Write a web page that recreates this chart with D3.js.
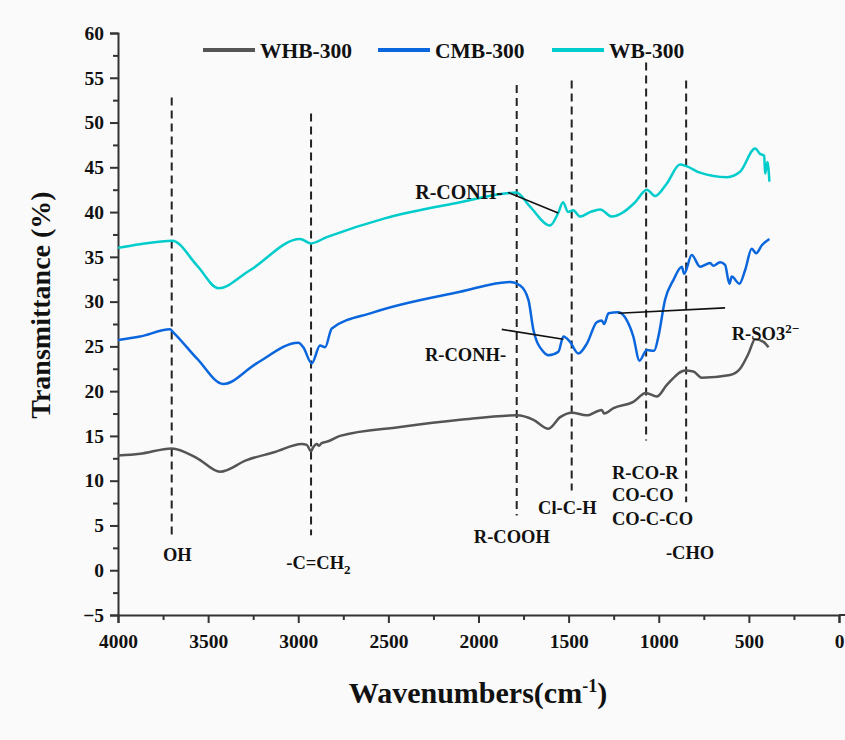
<!DOCTYPE html>
<html>
<head>
<meta charset="utf-8">
<script src="https://cdn.jsdelivr.net/npm/d3@7"></script>
<style>
  body { margin: 0; background: #fafafa; }
  svg { display: block; background: #fafafa; }
  text { font-family: "Liberation Serif", "Times New Roman", serif; font-weight: bold; fill: #111; }
</style>
</head>
<body>
<svg width="845" height="740"></svg>
<script>
// series names + colours
const seriesNames = ["WHB-300", "CMB-300", "WB-300"];
const seriesColors = ["#555555", "#0a66dc", "#00cccc"];

// WHB-300
const whbWave = [4000, 3878, 3702, 3560, 3434, 3286, 3129, 2981, 2953, 2929, 2918, 2897, 2885, 2870, 2833, 2768, 2435, 2102, 1788, 1695, 1612, 1547, 1482, 1399, 1316, 1303, 1251, 1141, 1072, 1011, 955, 854, 808, 761, 604, 549, 502, 465, 419, 391];
const whbT =    [12.8, 13.0, 13.6, 12.5, 11.0, 12.3, 13.2, 14.1, 14.0, 13.3, 13.7, 14.1, 13.9, 14.2, 14.4, 15.0, 16.0, 16.8, 17.3, 16.8, 15.8, 17.1, 17.6, 17.3, 17.9, 17.5, 18.1, 18.8, 19.8, 19.4, 20.7, 22.3, 22.2, 21.5, 21.8, 22.5, 24.2, 25.8, 25.5, 24.9];

// CMB-300
const cmbWave = [4000, 3878, 3711, 3695, 3560, 3416, 3231, 3000, 2972, 2925, 2879, 2851, 2814, 2583, 2102, 1825, 1769, 1723, 1695, 1640, 1612, 1557, 1529, 1492, 1446, 1399, 1344, 1316, 1303, 1279, 1224, 1177, 1141, 1107, 1066, 1026, 1002, 965, 919, 872, 859, 817, 771, 715, 697, 660, 632, 608, 595, 553, 521, 484, 460, 428, 386];
const cmbT =    [25.7, 26.1, 26.9, 26.6, 23.6, 20.8, 23.1, 25.4, 24.9, 23.1, 25.1, 24.9, 27.0, 28.8, 31.1, 32.2, 31.8, 30.2, 26.8, 24.4, 24.0, 24.4, 26.1, 25.5, 24.2, 25.3, 27.7, 27.9, 27.5, 28.7, 28.8, 27.9, 26.1, 23.4, 24.6, 24.5, 26.1, 30.2, 32.4, 33.9, 33.1, 35.2, 33.9, 34.3, 34.0, 34.4, 34.1, 32.0, 32.8, 32.0, 33.5, 35.9, 35.4, 36.3, 37.0];

// WB-300
const wbWave = [4000, 3878, 3700, 3560, 3443, 3268, 2990, 2931, 2842, 2520, 2102, 1843, 1790, 1714, 1603, 1558, 1531, 1503, 1475, 1436, 1381, 1325, 1260, 1196, 1131, 1066, 1020, 955, 882, 844, 771, 622, 549, 465, 438, 415, 410, 397, 386];
const wbT =    [36.0, 36.4, 36.8, 34.0, 31.5, 33.5, 37.0, 36.5, 37.2, 39.3, 41.1, 42.1, 42.2, 40.6, 38.5, 39.9, 41.1, 40.0, 40.2, 39.5, 40.0, 40.3, 39.5, 40.0, 41.1, 42.5, 41.8, 43.2, 45.3, 45.1, 44.4, 43.9, 44.5, 47.1, 46.5, 46.3, 44.3, 45.6, 43.4];

// axis ticks
const xTicks = [4000, 3500, 3000, 2500, 2000, 1500, 1000, 500, 0];
const yTicks = [-5, 0, 5, 10, 15, 20, 25, 30, 35, 40, 45, 50, 55, 60];

// dashed marker lines: wavenumber, top, bottom (in % units)
const markWave = [3702, 2929, 1788, 1483, 1070, 848];
const markTop = [52.8, 51.0, 54.2, 54.7, 56.7, 54.7];
const markBottom = [3.7, 3.9, 6.1, 8.9, 14.5, 7.6];

// labels: text, wavenumber, value, anchor
const labelText = ["OH", "-C=CH|2", "R-COOH", "Cl-C-H", "R-CO-R", "CO-CO", "CO-C-CO", "-CHO", "R-CONH-", "R-CONH-", "R-SO3^2\u2212"];
const labelWave = [3671, 2888, 1815, 1507, 1260, 1260, 1260, 826, 1864, 2072, 595];
const labelVal = [1.8, 0.9, 3.8, 7.0, 10.9, 8.4, 5.8, 2.0, 42.2, 24.1, 26.4];
const labelAnchor = ["middle", "middle", "middle", "middle", "start", "start", "start", "middle", "end", "middle", "start"];

// leader lines: [w1, v1, w2, v2]
const leaders = [
  [1836, 42.2, 1558, 39.9],
  [1871, 26.9, 1529, 25.8],
  [1224, 28.7, 632, 29.3]
];

const serif = "'Liberation Serif', 'Times New Roman', serif";
const svg = d3.select("svg");

const x = d3.scaleLinear().domain([4000, 0]).range([118, 839]);
const y = d3.scaleLinear().domain([-5, 60]).range([615, 33]);

// axes
svg.append("g").attr("transform", "translate(0,615)")
  .call(d3.axisBottom(x).tickValues(xTicks).tickSize(8).tickPadding(11).tickFormat(d3.format("d")));
svg.append("g").attr("transform", "translate(0,615)")
  .call(d3.axisBottom(x).tickValues(xTicks.slice(1).map(d => d + 250)).tickSize(5).tickFormat(""))
  .select(".domain").remove();

svg.append("g").attr("transform", "translate(118,0)")
  .call(d3.axisLeft(y).tickValues(yTicks).tickSize(8).tickPadding(6));
svg.append("g").attr("transform", "translate(118,0)")
  .call(d3.axisLeft(y).tickValues(yTicks.slice(1).map(d => d - 2.5)).tickSize(5).tickFormat(""))
  .select(".domain").remove();

svg.selectAll("g").attr("font-family", serif).attr("font-weight", "bold");
svg.selectAll(".domain").attr("stroke", "#333").attr("stroke-width", 2);
svg.selectAll(".tick line").attr("stroke", "#333").attr("stroke-width", 2);
svg.selectAll(".tick text")
  .style("font-family", serif)
  .style("font-weight", "bold").style("font-size", "19.5px").attr("fill", "#111");

// x axis runs on to the edge
svg.append("line")
  .attr("x1", x(0)).attr("x2", 845).attr("y1", 615).attr("y2", 615)
  .attr("stroke", "#333").attr("stroke-width", 2);

// axis titles
svg.append("text")
  .attr("transform", "translate(40,305) rotate(-90)")
  .attr("text-anchor", "middle").attr("dy", "0.35em")
  .style("font-size", "28px")
  .text("Transmittance (%)");

const xt = svg.append("text")
  .attr("x", 478).attr("y", 703)
  .attr("text-anchor", "middle")
  .style("font-size", "30px");
xt.append("tspan").text("Wavenumbers(cm");
xt.append("tspan").attr("dy", -11).style("font-size", "18px").text("-1");
xt.append("tspan").attr("dy", 11).text(")");

// dashed markers
svg.append("g").selectAll("line")
  .data(markWave)
  .join("line")
  .attr("x1", d => x(d)).attr("x2", d => x(d))
  .attr("y1", (d, i) => y(markTop[i]))
  .attr("y2", (d, i) => y(markBottom[i]))
  .attr("stroke", "#222").attr("stroke-width", 2)
  .attr("stroke-dasharray", "8,5");

// spectra
const line = d3.line().x(d => x(d[0])).y(d => y(d[1])).curve(d3.curveMonotoneX);
const series = [
  d3.zip(whbWave, whbT),
  d3.zip(cmbWave, cmbT),
  d3.zip(wbWave, wbT)
];
svg.append("g").selectAll("path")
  .data(series)
  .join("path")
  .attr("d", line)
  .attr("fill", "none")
  .attr("stroke", (d, i) => seriesColors[i])
  .attr("stroke-width", 2.5)
  .attr("stroke-linejoin", "round");

// leader lines
svg.append("g").selectAll("line")
  .data(leaders)
  .join("line")
  .attr("x1", d => x(d[0])).attr("y1", d => y(d[1]))
  .attr("x2", d => x(d[2])).attr("y2", d => y(d[3]))
  .attr("stroke", "#111").attr("stroke-width", 1.6);

// labels
const lab = svg.append("g").selectAll("text")
  .data(labelText)
  .join("text")
  .attr("x", (d, i) => x(labelWave[i]))
  .attr("y", (d, i) => y(labelVal[i]))
  .attr("dy", "0.35em")
  .attr("text-anchor", (d, i) => labelAnchor[i])
  .style("font-size", (d, i) => i === 8 ? "20px" : "18.5px");

lab.each(function(d) {
  const t = d3.select(this);
  if (d.includes("|")) {
    const [a, b] = d.split("|");
    t.append("tspan").text(a);
    t.append("tspan").attr("dy", 5).style("font-size", "13px").text(b);
  } else if (d.includes("^")) {
    const [a, b] = d.split("^");
    t.append("tspan").text(a);
    t.append("tspan").attr("dy", -7).style("font-size", "13px").text(b);
  } else {
    t.text(d);
  }
});

// legend
const legX = [203, 378, 552];
const leg = svg.append("g").selectAll("g")
  .data(seriesNames)
  .join("g")
  .attr("transform", (d, i) => `translate(${legX[i]},50)`);
leg.append("line")
  .attr("x1", 0).attr("x2", 52)
  .attr("stroke", (d, i) => seriesColors[i])
  .attr("stroke-width", 4);
leg.append("text")
  .attr("x", 57).attr("dy", "0.35em")
  .style("font-size", "21.5px")
  .text(d => d);
</script>
</body>
</html>
